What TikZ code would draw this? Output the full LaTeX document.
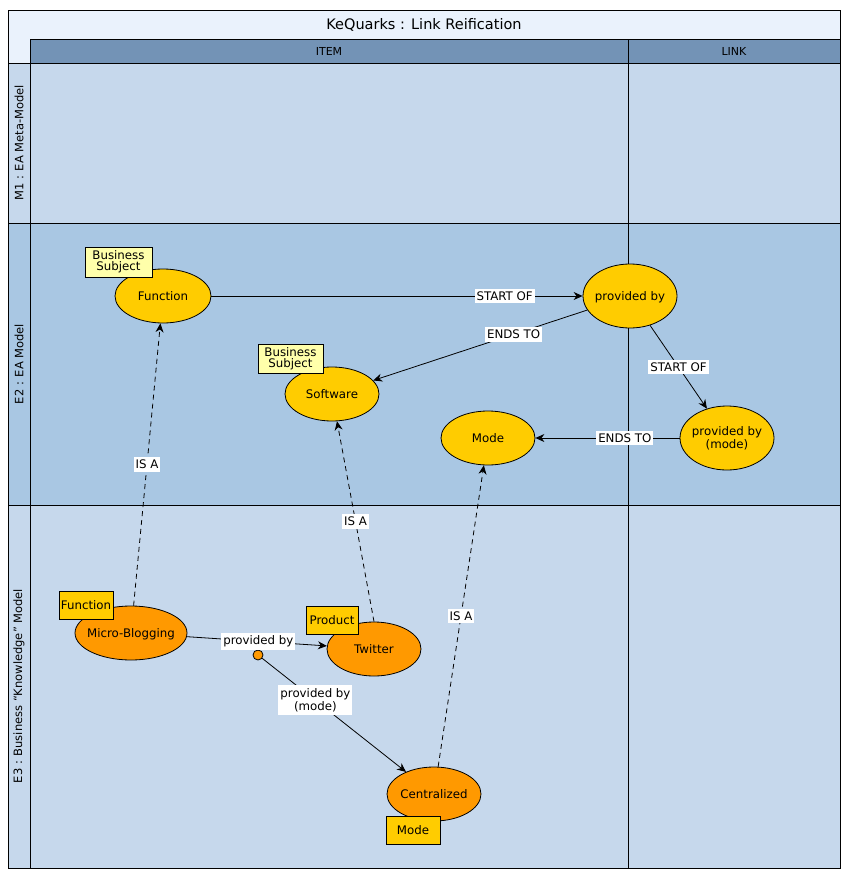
\documentclass[tikz,border=0pt]{standalone}
\usepackage{fontspec}
\setmainfont{DejaVu Sans}
\usetikzlibrary{shapes.geometric,arrows.meta}

\definecolor{titlebg}{HTML}{EAF2FC}
\definecolor{headbg}{HTML}{7393B6}
\definecolor{lanelight}{HTML}{C6D8EC}
\definecolor{lanedark}{HTML}{A9C7E3}
\definecolor{gold}{HTML}{FFCC00}
\definecolor{amber}{HTML}{FF9900}
\definecolor{paleyellow}{HTML}{FFFFAA}

% ellipse text: zero-size box so the ellipse keeps its given size
\newcommand{\ovaltext}[1]{\raisebox{-4.5pt}[0pt][0pt]{\makebox[0pt]{\begin{tabular}{@{}c@{}}#1\end{tabular}}}}

\tikzset{
  txt/.style={font=\fontsize{11.8}{13.3}\selectfont},
  concept/.style={ellipse, draw=black, line width=0.8pt, fill=gold, inner sep=0pt,
    minimum width=94pt, minimum height=54pt, txt},
  instance/.style={concept, fill=amber},
  tagbox/.style={draw=black, line width=0.8pt, inner sep=0pt, align=center, txt,
    minimum width=54pt, minimum height=28pt},
  rel/.style={draw=black, line width=0.8pt, -{Stealth[length=9pt,width=8pt]}},
  isa/.style={rel, dash pattern=on 5pt off 4pt},
  lbl/.style={fill=white, inner xsep=2pt, inner ysep=3pt, align=center, txt},
  lanetxt/.style={font=\fontsize{11.5}{13}\selectfont, rotate=90},
  headtxt/.style={font=\fontsize{11}{13}\selectfont},
}

\begin{document}
\begin{tikzpicture}[x=1pt,y=-1pt]
\useasboundingbox (0,0) rectangle (848,878);
\fill[white] (0,0) rectangle (848,878);

% swimlane grid
\fill[titlebg] (8,10) rectangle (840,63);
\fill[headbg] (30,39) rectangle (840,63);
\fill[lanelight] (8,63) rectangle (840,223);
\fill[lanedark] (8,223) rectangle (840,505);
\fill[lanelight] (8,505) rectangle (840,868);
\begin{scope}[draw=black, line width=0.8pt]
  \draw (8,10) rectangle (840,868);
  \draw (30,39) -- (840,39);
  \draw (30,39) -- (30,868);
  \draw (628,39) -- (628,868);
  \draw (30,63) -- (840,63);
  \draw (8,63) -- (30,63);
  \draw (8,223) -- (840,223);
  \draw (8,505) -- (840,505);
\end{scope}

\node[font=\fontsize{14.5}{16}\selectfont] (title) at (424,24.5) {KeQuarks : Link Reification};
\node[headtxt] (colitem) at (329,51) {ITEM};
\node[headtxt] (collink) at (734,51) {LINK};
\node[lanetxt] (rowm1) at (19,143) {M1 : EA Meta-Model};
\node[lanetxt] (rowe2) at (19,364) {E2 : EA Model};
\node[lanetxt] (rowe3) at (19,686) {E3 : Business ``Knowledge'' Model};

% E2 concepts
\node[concept, minimum width=96pt] (fn) at (163,296) {\ovaltext{Function}};
\node[concept, minimum height=64pt] (pb) at (630,296) {\ovaltext{provided by}};
\node[concept] (sw) at (332,394) {\ovaltext{Software}};
\node[concept] (md) at (488,438) {\ovaltext{Mode}};
\node[concept, minimum height=64pt] (pbm) at (727,438) {\ovaltext{provided by\\(mode)}};

% E3 instances
\node[instance, minimum width=112pt] (mb) at (131,633) {\ovaltext{Micro-Blogging}};
\node[instance] (tw) at (374,649) {\ovaltext{Twitter}};
\node[instance] (ce) at (434,794) {\ovaltext{Centralized}};
\node[circle, draw=black, line width=0.8pt, fill=amber, inner sep=0pt, minimum size=10pt] (dot) at (258,655) {};

% type tags
\node[tagbox, fill=paleyellow, minimum width=67pt, minimum height=30pt] (tagfn) at (118.5,262) {Business\\[-2pt]Subject};
\node[tagbox, fill=paleyellow, minimum width=65pt, minimum height=29pt] (tagsw) at (290.5,358.5) {Business\\[-2pt]Subject};
\node[tagbox, fill=gold] (tagmb) at (86,605) {Function};
\node[tagbox, fill=gold, minimum width=52pt] (tagtw) at (332,620) {Product};
\node[tagbox, fill=gold] (tagce) at (413,830) {Mode};

% relations
\draw[rel] (fn) -- node[lbl, pos=0.79] {START OF} (pb);
\draw[rel] (pb) -- node[lbl, pos=0.344] {ENDS TO} (sw);
\draw[rel] (pb) -- node[lbl, pos=0.5] {START OF} (pbm);
\draw[rel] (pbm) -- node[lbl, pos=0.38] {ENDS TO} (md);
\draw[isa] (mb) -- node[lbl, pos=0.5] {IS A} (fn);
\draw[isa] (tw.north) -- node[lbl, pos=0.5] {IS A} (sw);
\draw[isa] (ce) -- node[lbl, pos=0.5] {IS A} (md);
\draw[rel] (mb) -- node[lbl, pos=0.51] {provided by} (tw);
\draw[rel] (dot) -- node[lbl, pos=0.37] {provided by\\(mode)} (ce);

% tags sit above the ellipses
\node[tagbox, fill=gold] at (tagmb) {Function};
\node[tagbox, fill=gold] at (tagce) {Mode};
\end{tikzpicture}
\end{document}
